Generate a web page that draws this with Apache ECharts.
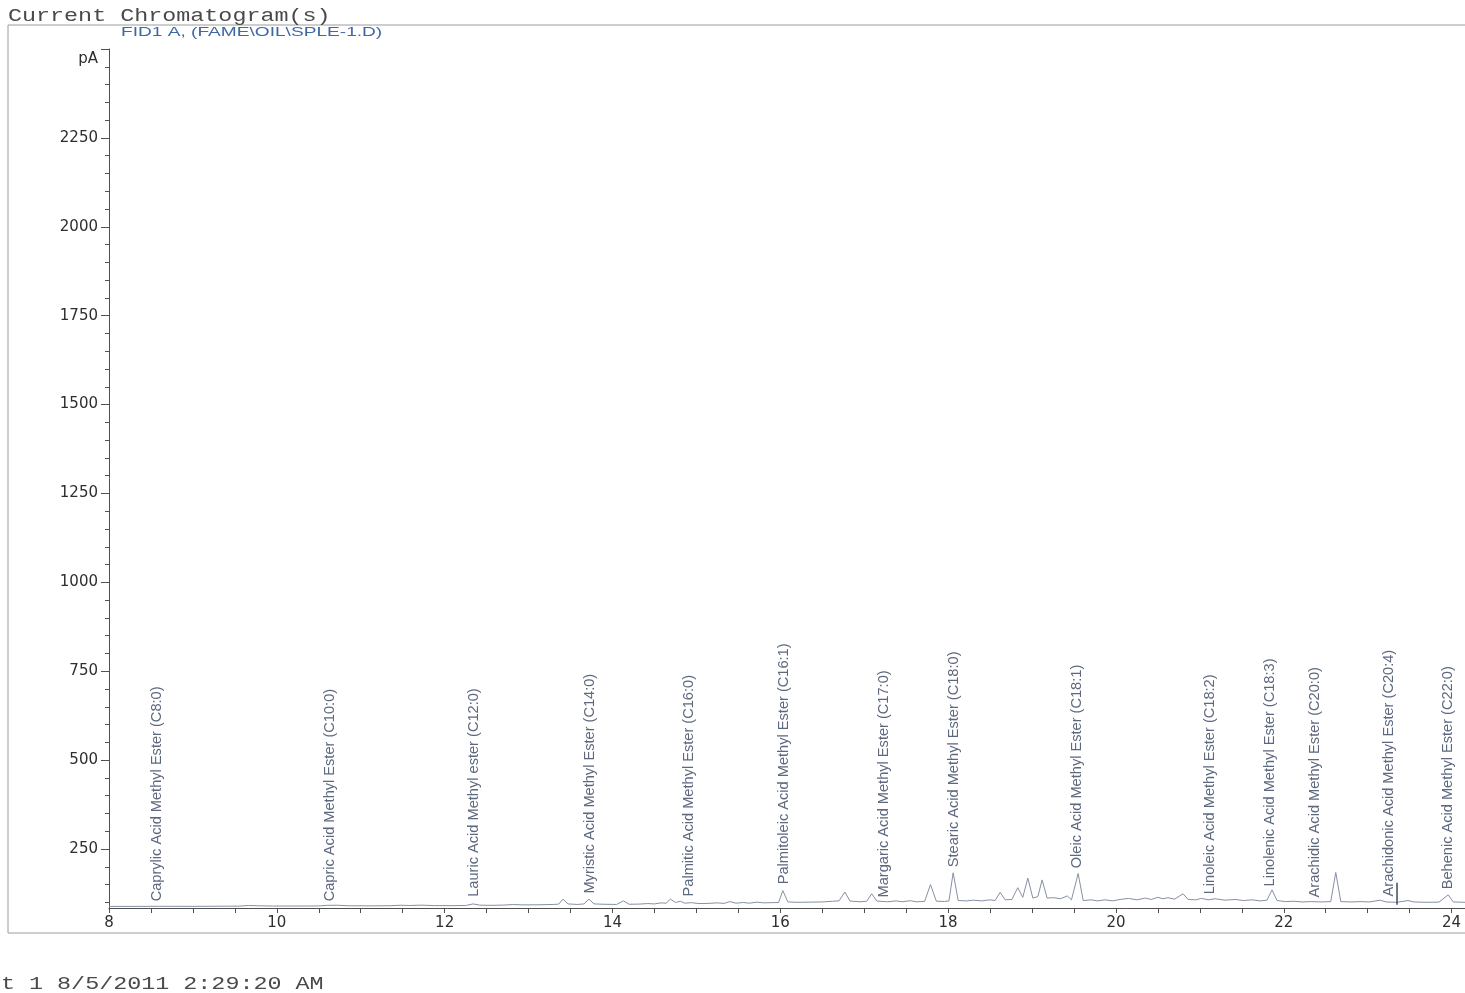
<!DOCTYPE html>
<html>
<head>
<meta charset="utf-8">
<title>Current Chromatogram(s)</title>
<script src="https://cdn.jsdelivr.net/npm/echarts@6/dist/echarts.min.js"></script>
<style>
  html, body { margin: 0; padding: 0; background: #ffffff; }
  #chart { width: 1465px; height: 993px; }
</style>
</head>
<body>
<div id="chart"></div>
<script>
// FID1 A detector signal: [retention time (min), signal (pA)]
const signal = [
  [8.00, 88.5], [8.30, 88.5], [8.60, 88.8], [9.00, 88.6], [9.30, 89.0], [9.55, 89.2],
  [9.66, 91.0], [9.78, 90.2], [9.95, 89.5], [10.20, 89.5], [10.50, 89.8], [10.60, 91.5],
  [10.72, 91.8], [10.85, 90.3], [11.10, 90.0], [11.35, 90.4], [11.48, 91.8], [11.58, 91.0],
  [11.72, 92.0], [11.88, 90.8], [12.10, 90.6], [12.25, 91.0], [12.34, 95.5], [12.42, 92.0],
  [12.55, 91.5], [12.70, 92.2], [12.82, 93.8], [12.92, 92.8], [13.10, 93.0], [13.30, 94.0],
  [13.36, 95.0], [13.41, 109], [13.47, 95.5], [13.58, 94.0], [13.66, 95.5], [13.72, 109],
  [13.78, 95.5], [13.90, 94.5], [14.05, 94.0], [14.13, 104], [14.20, 94.5], [14.32, 95.0],
  [14.42, 96.5], [14.50, 95.5], [14.58, 98.5], [14.64, 97.5], [14.69, 109], [14.75, 99.5],
  [14.81, 103], [14.86, 97.5], [14.94, 99.0], [15.03, 96.5], [15.15, 97.0], [15.25, 98.5],
  [15.33, 97.0], [15.40, 102], [15.47, 97.5], [15.56, 99.5], [15.63, 97.5], [15.72, 100.5],
  [15.80, 98.5], [15.90, 99.0], [15.98, 99.5], [16.03, 133], [16.09, 101], [16.20, 100],
  [16.35, 100.5], [16.50, 101], [16.62, 103], [16.70, 104], [16.77, 129], [16.83, 103.5],
  [16.95, 101.5], [17.03, 103], [17.09, 124], [17.15, 103.5], [17.28, 101.5], [17.38, 104],
  [17.45, 101.5], [17.55, 104.5], [17.62, 101.5], [17.72, 102.5], [17.79, 150], [17.86, 103],
  [17.96, 102.5], [18.01, 104], [18.06, 183], [18.12, 105], [18.22, 104], [18.30, 106],
  [18.40, 104], [18.50, 107], [18.56, 105], [18.62, 128], [18.68, 107], [18.76, 108],
  [18.83, 141], [18.89, 114], [18.95, 168], [19.01, 112], [19.07, 116], [19.12, 163],
  [19.18, 112], [19.26, 113], [19.34, 110], [19.42, 118], [19.47, 107], [19.55, 181],
  [19.61, 105], [19.70, 107], [19.78, 104], [19.87, 107], [19.96, 104], [20.05, 108],
  [20.15, 111], [20.25, 107], [20.35, 112], [20.42, 108], [20.50, 114], [20.56, 110],
  [20.62, 113], [20.70, 109], [20.80, 124], [20.86, 108], [20.95, 107], [21.02, 111],
  [21.10, 107], [21.18, 110], [21.30, 106], [21.42, 108], [21.52, 105], [21.62, 107],
  [21.72, 104], [21.80, 106], [21.86, 135], [21.92, 105], [22.02, 102], [22.12, 103],
  [22.22, 101], [22.32, 102], [22.45, 101], [22.56, 102], [22.62, 184], [22.68, 102],
  [22.80, 101], [22.92, 102], [23.02, 101], [23.15, 106], [23.22, 101], [23.35, 100],
  [23.48, 105], [23.55, 101], [23.70, 100], [23.85, 100.5], [23.96, 121], [24.02, 101],
  [24.16, 100]
];

// Identified FAME peaks: names, expected retention times (min), signal level at the label (pA)
const peakNames = [
  'Caprylic Acid Methyl Ester (C8:0)',
  'Capric Acid Methyl Ester (C10:0)',
  'Lauric Acid Methyl ester (C12:0)',
  'Myristic Acid Methyl Ester (C14:0)',
  'Palmitic Acid Methyl Ester (C16:0)',
  'Palmitoleic Acid Methyl Ester (C16:1)',
  'Margaric Acid Methyl Ester (C17:0)',
  'Stearic Acid Methyl Ester (C18:0)',
  'Oleic Acid Methyl Ester (C18:1)',
  'Linoleic Acid Methyl Ester (C18:2)',
  'Linolenic Acid Methyl Ester (C18:3)',
  'Arachidic Acid Methyl Ester (C20:0)',
  'Arachidonic Acid Methyl Ester (C20:4)',
  'Behenic Acid Methyl Ester (C22:0)'
];
const peakTimes = [8.57, 10.63, 12.35, 13.73, 14.91, 16.04, 17.23, 18.07, 19.53, 21.12, 21.84, 22.37, 23.25, 23.96];
const peakTops  = [90, 90, 103, 112, 104, 138, 101, 186, 183, 110, 132, 101, 104, 124];

// Baseline event mark: [time, from pA, to pA]
const eventMarks = [[23.35, 93, 155]];

// Axis tick values
const xLabelValues = [8, 10, 12, 14, 16, 18, 20, 22, 24];
const xTickValues = [8, 8.5, 9, 9.5, 10, 10.5, 11, 11.5, 12, 12.5, 13, 13.5, 14, 14.5, 15, 15.5,
  16, 16.5, 17, 17.5, 18, 18.5, 19, 19.5, 20, 20.5, 21, 21.5, 22, 22.5, 23, 23.5, 24];
const yLabelValues = [250, 500, 750, 1000, 1250, 1500, 1750, 2000, 2250];
const yMajorTicks = [250, 500, 750, 1000, 1250, 1500, 1750, 2000, 2250, 2500];
const yMinorTicks = [100, 150, 200, 300, 350, 400, 450, 550, 600, 650, 700, 800, 850, 900, 950,
  1050, 1100, 1150, 1200, 1300, 1350, 1400, 1450, 1550, 1600, 1650, 1700, 1800, 1850, 1900, 1950,
  2050, 2100, 2150, 2200, 2300, 2350, 2400, 2450];

const chart = echarts.init(document.getElementById('chart'), null, { renderer: 'canvas' });

const axisColor = '#505050';
const labelFont = { fontFamily: 'DejaVu Sans', fontSize: 15, color: '#2e2e2e' };
const plainNumber = (v) => String(v);

chart.setOption({
  animation: false,
  backgroundColor: '#ffffff',
  grid: { left: 109, right: 0, top: 49, bottom: 85, containLabel: false },
  xAxis: {
    type: 'value',
    min: 8,
    max: 24.16,
    splitLine: { show: false },
    axisLine: { lineStyle: { color: axisColor, width: 1 } },
    axisTick: { customValues: xTickValues, length: 5, lineStyle: { color: axisColor } },
    axisLabel: Object.assign({ customValues: xLabelValues, margin: 8, formatter: plainNumber }, labelFont)
  },
  yAxis: [
    {
      type: 'value',
      min: 84,
      max: 2500,
      splitLine: { show: false },
      axisLine: { show: true, lineStyle: { color: axisColor, width: 1 } },
      axisTick: { customValues: yMajorTicks, length: 8, lineStyle: { color: axisColor } },
      axisLabel: Object.assign({ customValues: yLabelValues, margin: 11, formatter: plainNumber }, labelFont)
    },
    {
      type: 'value',
      min: 84,
      max: 2500,
      position: 'left',
      splitLine: { show: false },
      axisLine: { show: false },
      axisLabel: { show: false },
      axisTick: { customValues: yMinorTicks, length: 4, lineStyle: { color: axisColor } }
    }
  ],
  series: [
    {
      name: 'FID1 A',
      type: 'line',
      data: signal,
      showSymbol: false,
      symbol: 'none',
      lineStyle: { color: '#8690a3', width: 1 },
      z: 3
    },
    {
      name: 'Peaks',
      type: 'scatter',
      data: peakTimes.map((t, i) => [t, peakTops[i]]),
      symbolSize: 1,
      itemStyle: { color: 'rgba(0,0,0,0)' },
      label: {
        show: true,
        position: 'top',
        distance: 4,
        rotate: 90,
        align: 'left',
        verticalAlign: 'middle',
        fontFamily: 'Liberation Sans',
        fontSize: 14.6,
        color: '#34425e',
        formatter: (p) => peakNames[p.dataIndex]
      },
      z: 4
    },
    {
      name: 'Events',
      type: 'line',
      data: eventMarks.flatMap(m => [[m[0], m[1]], [m[0], m[2]]]),
      showSymbol: false,
      symbol: 'none',
      lineStyle: { color: '#3c4a66', width: 1.5 },
      z: 3
    }
  ],
  graphic: [
    {
      type: 'rect',
      shape: { x: 8, y: 25, width: 1500, height: 908 },
      style: { fill: 'none', stroke: '#9c9c9c', lineWidth: 1 },
      silent: true
    },
    {
      type: 'text',
      x: 8, y: 15.5,
      scaleX: 1.23,
      style: {
        text: 'Current Chromatogram(s)',
        font: '19px "Liberation Mono"',
        fill: '#4a4a4a',
        textAlign: 'left', align: 'left',
        textVerticalAlign: 'middle', verticalAlign: 'middle'
      }
    },
    {
      type: 'text',
      x: 121, y: 32.5,
      scaleX: 1.47,
      style: {
        text: 'FID1 A, (FAME\\OIL\\SPLE-1.D)',
        font: '13px "Liberation Sans"',
        fill: '#3d68a6',
        textAlign: 'left', align: 'left',
        textVerticalAlign: 'middle', verticalAlign: 'middle'
      }
    },
    {
      type: 'text',
      x: 98, y: 59.5,
      style: {
        text: 'pA',
        font: '15px "DejaVu Sans"',
        fill: '#2e2e2e',
        textAlign: 'right', align: 'right',
        textVerticalAlign: 'middle', verticalAlign: 'middle'
      }
    },
    {
      type: 'text',
      x: 1, y: 983.5,
      scaleX: 1.23,
      style: {
        text: 't 1 8/5/2011 2:29:20 AM',
        font: '19px "Liberation Mono"',
        fill: '#4a4a4a',
        textAlign: 'left', align: 'left',
        textVerticalAlign: 'middle', verticalAlign: 'middle'
      }
    }
  ]
});
</script>
</body>
</html>
